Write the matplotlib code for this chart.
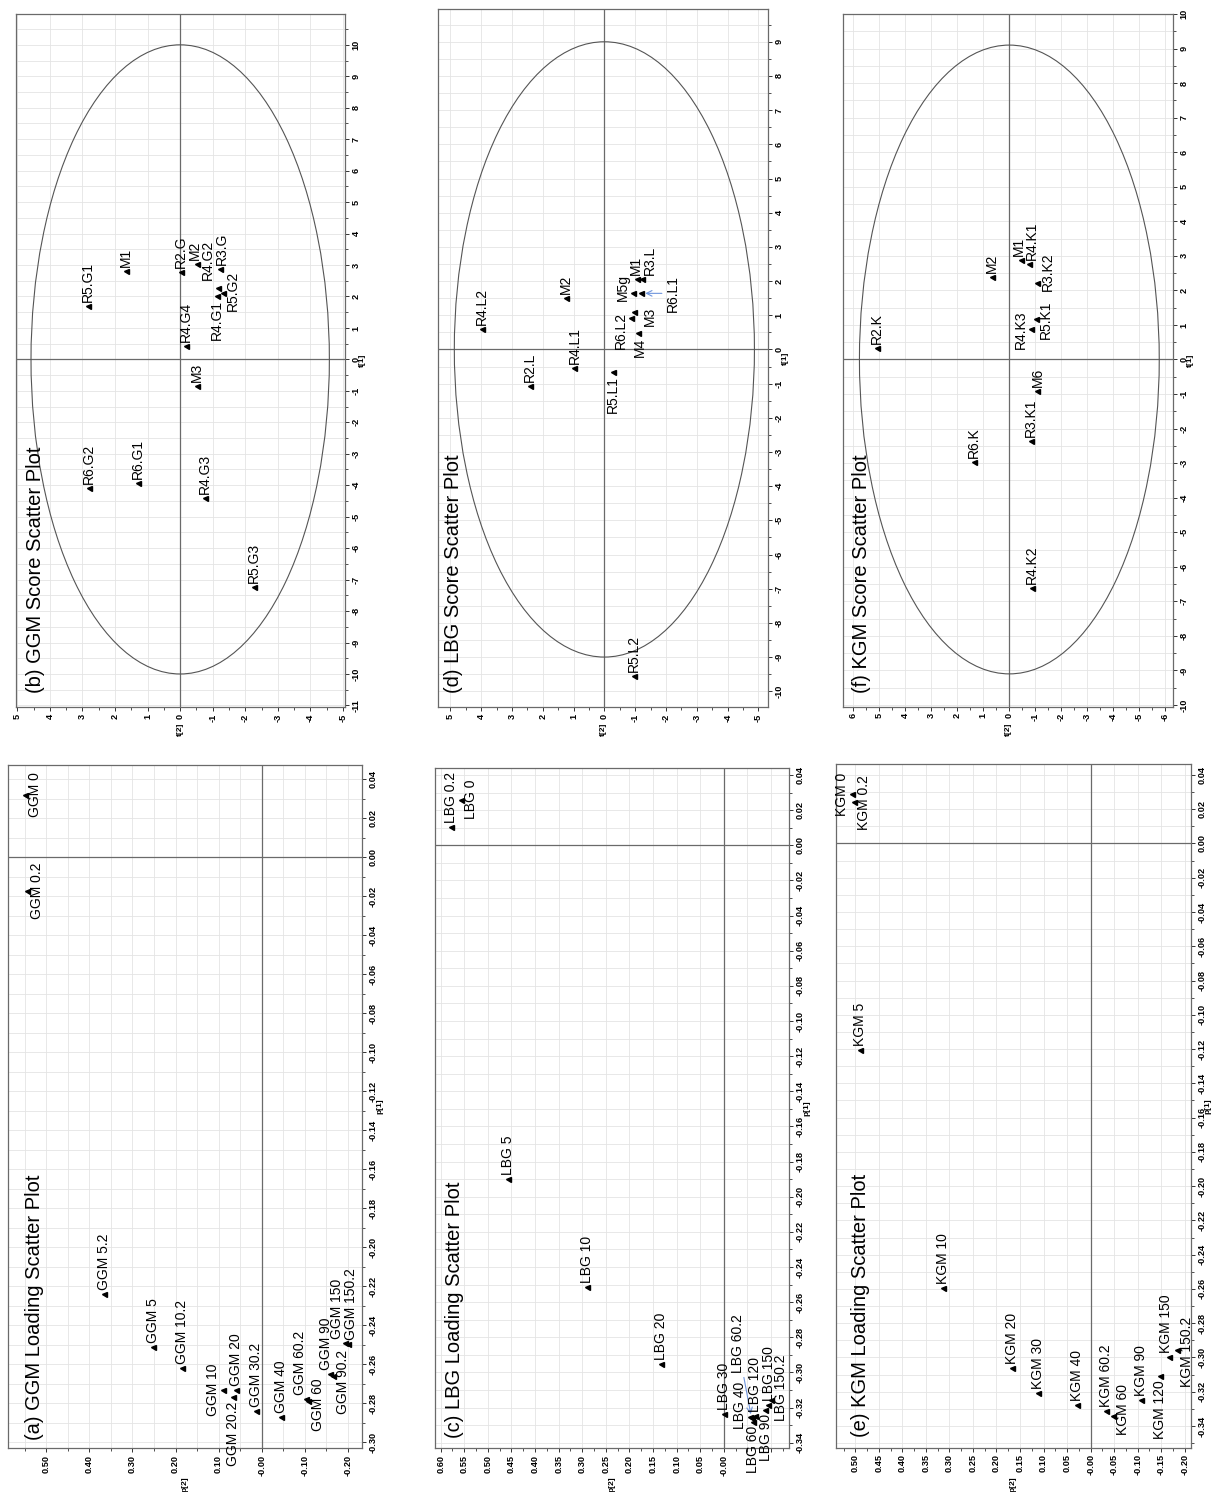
import numpy as np
import matplotlib
matplotlib.use("Agg")
import matplotlib.pyplot as plt
from matplotlib.patches import Ellipse

plt.rcParams['font.family'] = ['Liberation Sans', 'DejaVu Sans']

W, H, DPI = 1224, 1492, 100

# ---------------- data ----------------
# (a) GGM loadings
ggm_names = ["GGM 0", "GGM 0.2", "GGM 5.2", "GGM 5", "GGM 10.2", "GGM 10",
             "GGM 20.2", "GGM 20", "GGM 30.2", "GGM 40", "GGM 60.2", "GGM 60",
             "GGM 90", "GGM 90.2", "GGM 150", "GGM 150.2"]
ggm_p1 = [0.032, -0.017, -0.224, -0.251, -0.262, -0.273,
          -0.277, -0.273, -0.284, -0.287, -0.278, -0.279,
          -0.265, -0.266, -0.249, -0.2495]
ggm_p2 = [0.549, 0.545, 0.366, 0.253, 0.186, 0.089,
          0.066, 0.060, 0.013, -0.046, -0.103, -0.107,
          -0.158, -0.165, -0.193, -0.201]

# (b) GGM scores
ggm_s_names = ["R5.G1", "M1", "R2.G", "M2", "R3.G", "R4.G2", "R4.G1", "R5.G2",
               "R4.G4", "M3", "R6.G2", "R6.G1", "R4.G3", "R5.G3"]
ggm_t1 = [1.71, 2.80, 2.77, 3.02, 2.88, 2.28, 2.00, 2.10,
          0.42, -0.83, -4.10, -3.93, -4.40, -7.25]
ggm_t2 = [2.84, 1.66, -0.03, -0.51, -1.23, -1.17, -1.13, -1.31,
          -0.17, -0.51, 2.81, 1.31, -0.77, -2.27]

# (c) LBG loadings
lbg_names = ["LBG 0.2", "LBG 0", "LBG 5", "LBG 10", "LBG 20", "LBG 30",
             "LBG 40", "LBG 60.2", "LBG 60", "LBG 120", "LBG 90", "LBG 150", "LBG 150.2"]
lbg_p1 = [0.0106, 0.026, -0.190, -0.2516, -0.2954, -0.3237,
          -0.3252, -0.3261, -0.3282, -0.3248, -0.3214, -0.3186, -0.3157]
lbg_p2 = [0.578, 0.556, 0.457, 0.291, 0.134, 0.000,
          -0.0551, -0.0587, -0.0614, -0.0657, -0.0869, -0.0939, -0.0996]

# (d) LBG scores
lbg_s_names = ["R4.L2", "M2", "R4.L1", "R2.L", "R5.L1", "R5.L2",
               "R6.L2", "M3", "M5g", "R6.L1", "M1", "R3.L", "M4"]
lbg_t1 = [0.61, 1.51, -0.53, -1.07, -0.66, -9.55,
          0.925, 1.10, 1.64, 1.64, 2.06, 2.06, 0.47]
lbg_t2 = [3.98, 1.24, 0.97, 2.41, -0.29, -0.96,
          -0.857, -0.974, -0.94, -1.19, -1.07, -1.21, -1.10]

# (e) KGM loadings
kgm_names = ["KGM 0", "KGM 0.2", "KGM 5", "KGM 10", "KGM 20", "KGM 30", "KGM 40",
             "KGM 60.2", "KGM 60", "KGM 90", "KGM 120", "KGM 150", "KGM 150.2"]
kgm_p1 = [0.0287, 0.024, -0.1206, -0.2597, -0.3064, -0.321, -0.3278,
          -0.331, -0.334, -0.325, -0.311, -0.300, -0.2957]
kgm_p2 = [0.507, 0.503, 0.490, 0.313, 0.168, 0.111, 0.0285,
          -0.0325, -0.0468, -0.108, -0.147, -0.167, -0.183]

# (f) KGM scores
kgm_s_names = ["R2.K", "M2", "M1", "R4.K1", "R3.K2", "R4.K3", "R5.K1",
               "M6", "R3.K1", "R6.K", "R4.K2"]
kgm_t1 = [0.32, 2.39, 2.89, 2.77, 2.20, 0.87, 1.16,
          -0.91, -2.35, -2.98, -6.62]
kgm_t2 = [5.09, 0.68, -0.44, -0.77, -1.08, -0.82, -1.01,
          -1.08, -0.83, 1.36, -0.88]

# Hotelling T2 (95%) ellipse semi-axes: (t[2], t[1])
ggm_ellipse = (4.58, 10.0)
lbg_ellipse = (4.87, 9.0)
kgm_ellipse = (5.76, 9.1)

# ---------------- label placement ----------------
# mode: 'r' text after marker, 'l' before, 'a' above, 'b' below (plot frame),
# plus a pixel nudge (dx, dy) on the page
ggm_place = {"GGM 0": ('b', 0, 0), "GGM 0.2": ('b', 0, 0), "GGM 10": ('a', 0, 0),
             "GGM 20.2": ('l', 0, 0), "GGM 60": ('b', 0, -3),
             "GGM 60.2": ('r', -6, 0), "GGM 90": ('r', -4, 0),
             "GGM 90.2": ('b', 0, -6), "GGM 150": ('r', -8, 0),
             "GGM 150.2": ('r', 3, 0)}
ggm_s_place = {"M2": ('r', -2, 0), "R4.G2": ('r', -10.5, 4), "R3.G": ('r', 1.5, 0),
               "R4.G1": ('l', 0, 0), "R5.G2": ('b', 0, 2)}
lbg_place = {"LBG 0": ('b', 0, 0), "LBG 40": ('a', 0, 11), "LBG 60.2": ('r', -14, 41),
             "LBG 60": ('l', 0, 0), "LBG 120": ('r', 0, 0), "LBG 90": ('l', 1, 0),
             "LBG 150": ('r', 0.5, 0), "LBG 150.2": ('b', 0, 12)}
lbg_s_place = {"R5.L1": ('l', 0, 0), "R6.L2": ('a', 0, -13), "M3": ('b', 5, -5),
               "M5g": ('a', 0, 6), "M4": ('l', 2, 0), "R6.L1": ('b', 22, 0),
               "M1": ('r', -1, 0), "R3.L": ('r', 8, 0)}
kgm_place = {"KGM 0": ('a', 0, 0), "KGM 0.2": ('b', 0, 0), "KGM 60": ('b', 0, 6),
             "KGM 120": ('l', 0, 0), "KGM 150": ('r', -3, 0), "KGM 150.2": ('b', 0, -2)}
kgm_s_place = {"M1": ('r', -2, 0), "R4.K1": ('r', 2, 0), "R3.K2": ('b', 0, 12),
               "R4.K3": ('a', 0, 0), "R5.K1": ('b', 0, 0)}

ARROW_LABELS = {"LBG 60.2", "R6.L1"}

# ---------------- styling ----------------
GRID_C = '#e4e4e4'
AXIS_C = '#6a6a6a'
TICK_FS = 6.6
LABEL_FS = 10
TITLE_FS = 14.5

fig = plt.figure(figsize=(W / DPI, H / DPI), dpi=DPI)


def rect(x0, y0, x1, y1):
    return [x0 / W, 1 - y1 / H, (x1 - x0) / W, (y1 - y0) / H]


def multiples(lo, hi, step):
    lo, hi = min(lo, hi), max(lo, hi)
    k0 = int(np.ceil(lo / step - 1e-9))
    k1 = int(np.floor(hi / step + 1e-9))
    return [round(k * step, 6) for k in range(k0, k1 + 1)]


def fmt_loading_x(v):
    return "-0.00" if abs(v) < 1e-9 else f"{v:.2f}"


def fmt_loading_x_pos(v):
    # negative side of the LBG loading axis is covered by point labels
    if v < -1e-9:
        return ""
    return fmt_loading_x(v)


def fmt_loading_y(v):
    return "0.00" if abs(v) < 1e-9 else f"{v:.2f}"


def fmt_int(v):
    return f"{int(round(v))}"


def panel(frame, xlim, ylim, xmaj, xminor, xgrid, ymaj, yminor, ygrid,
          xfmt, yfmt, xlabel, ylabel, title, title_pos):
    ax = fig.add_axes(rect(*frame))
    ax.set_xlim(*xlim)
    ax.set_ylim(*ylim)
    for g in multiples(*xlim, xgrid):
        ax.axvline(g, color=GRID_C, lw=0.6, zorder=0)
    for g in multiples(*ylim, ygrid):
        ax.axhline(g, color=GRID_C, lw=0.6, zorder=0)
    ax.axvline(0, color=AXIS_C, lw=0.9, zorder=1)
    ax.axhline(0, color=AXIS_C, lw=0.9, zorder=1)

    xt = multiples(*xlim, xmaj)
    yt = multiples(*ylim, ymaj)
    ax.set_xticks(xt)
    ax.set_xticklabels([xfmt(v) for v in xt], rotation=90,
                       fontsize=TICK_FS, fontweight='bold')
    ax.set_xticks(multiples(*xlim, xminor), minor=True)
    ax.yaxis.tick_right()
    ax.set_yticks(yt)
    ax.set_yticklabels([yfmt(v) for v in yt], rotation=90, va='center',
                       fontsize=TICK_FS, fontweight='bold')
    ax.set_yticks(multiples(*ylim, yminor), minor=True)
    ax.tick_params(which='major', length=3.2, width=0.7, color='#333333', pad=1.5)
    ax.tick_params(which='minor', length=2.2, width=0.6, color='#333333')
    for sp in ax.spines.values():
        sp.set_color(AXIS_C)
        sp.set_linewidth(0.9)
    ax.set_xlabel(xlabel, fontsize=6, fontweight='bold', rotation=90, labelpad=0.5)
    ax.yaxis.set_label_position('right')
    ax.set_ylabel(ylabel, fontsize=6, fontweight='bold', rotation=90, labelpad=4,
                  va='bottom')
    ax.text(title_pos[0], title_pos[1], title, transform=ax.transAxes, rotation=90,
            ha='center', va='bottom', fontsize=TITLE_FS)
    return ax


MODES = {'r': ('center', 'bottom', 0, 4), 'l': ('center', 'top', 0, -4),
         'a': ('right', 'center', -3, 0), 'b': ('left', 'center', 3, 0)}


def scatter_labels(ax, names, xs, ys, place):
    ax.plot(xs, ys, linestyle='none', marker='<', markersize=3.6,
            color='black', zorder=3)
    for n, x, y in zip(names, xs, ys):
        mode, ddx, ddy = place.get(n, ('r', 0, 0))
        ha, va, dx, dy = MODES[mode]
        kw = {}
        if n in ARROW_LABELS:
            kw['arrowprops'] = dict(arrowstyle='->', color='#6f95dc', lw=0.8,
                                    shrinkA=1, shrinkB=3)
        ax.annotate(n, (x, y), xytext=(dx + ddx, dy + ddy),
                    textcoords='offset pixels', rotation=90, ha=ha, va=va,
                    fontsize=LABEL_FS, zorder=4, **kw)


# (a)
ax = panel((8, 765, 362, 1448), (0.589, -0.233), (-0.303, 0.0474),
           0.10, 0.05, 0.05, 0.02, 0.01, 0.01, fmt_loading_x, fmt_loading_y,
           'p[2]', 'p[1]', '(a) GGM Loading Scatter Plot', (0.076, 0.012))
scatter_labels(ax, ggm_names, ggm_p2, ggm_p1, ggm_place)

# (b)
ax = panel((15.7, 14, 345, 707), (5.05, -5.06), (-11.05, 10.98),
           1, 0.5, 1, 1, 0.5, 0.5, fmt_int, fmt_int,
           't[2]', 't[1]', '(b) GGM Score Scatter Plot', (0.059, 0.02))
ax.add_patch(Ellipse((0, 0), 2 * ggm_ellipse[0], 2 * ggm_ellipse[1], fill=False,
                     ec='#555555', lw=0.8, zorder=2))
scatter_labels(ax, ggm_s_names, ggm_t2, ggm_t1, ggm_s_place)

# (c)
ax = panel((435, 768, 789, 1448), (0.612, -0.138), (-0.343, 0.044),
           0.05, 0.025, 0.05, 0.02, 0.01, 0.01, fmt_loading_x_pos, fmt_loading_y,
           'p[2]', 'p[1]', '(c) LBG Loading Scatter Plot', (0.056, 0.015))
scatter_labels(ax, lbg_names, lbg_p2, lbg_p1, lbg_place)

# (d)
ax = panel((438.3, 9.3, 768.3, 707.3), (5.39, -5.32), (-10.47, 9.95),
           1, 0.5, 1, 1, 0.5, 0.5, fmt_int, fmt_int,
           't[2]', 't[1]', '(d) LBG Score Scatter Plot', (0.045, 0.021))
ax.add_patch(Ellipse((0, 0), 2 * lbg_ellipse[0], 2 * lbg_ellipse[1], fill=False,
                     ec='#555555', lw=0.8, zorder=2))
scatter_labels(ax, lbg_s_names, lbg_t2, lbg_t1, lbg_s_place)

# (e)
ax = panel((836, 764, 1190.7, 1447.7), (0.541, -0.2126), (-0.3527, 0.0464),
           0.05, 0.025, 0.05, 0.02, 0.01, 0.01, fmt_loading_x, fmt_loading_y,
           'p[2]', 'p[1]', '(e) KGM Loading Scatter Plot', (0.07, 0.016))
scatter_labels(ax, kgm_names, kgm_p2, kgm_p1, kgm_place)

# (f)
ax = panel((843.3, 14, 1173.3, 706.7), (6.38, -6.30), (-10.05, 10.0),
           1, 0.5, 1, 1, 0.5, 0.5, fmt_int, fmt_int,
           't[2]', 't[1]', '(f) KGM Score Scatter Plot', (0.055, 0.02))
ax.add_patch(Ellipse((0, 0), 2 * kgm_ellipse[0], 2 * kgm_ellipse[1], fill=False,
                     ec='#555555', lw=0.8, zorder=2))
scatter_labels(ax, kgm_s_names, kgm_t2, kgm_t1, kgm_s_place)

fig.savefig('out.png', dpi=DPI, facecolor='white')
